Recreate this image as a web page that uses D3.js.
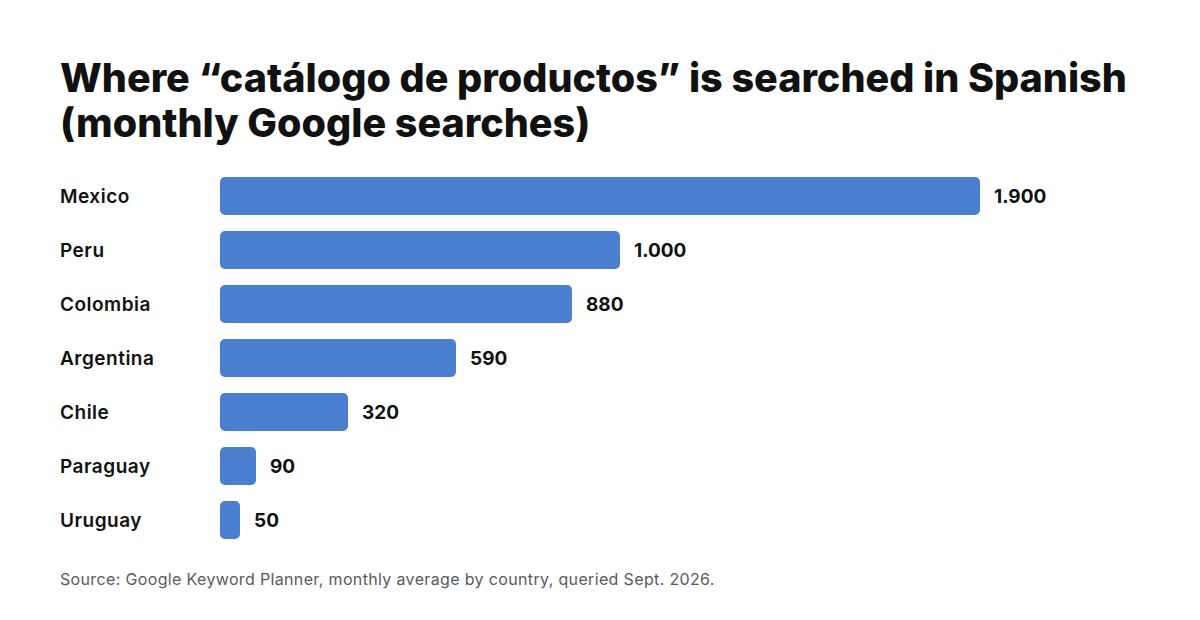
<!DOCTYPE html>
<html>
<head>
<meta charset="utf-8">
<script src="https://cdn.jsdelivr.net/npm/d3@7"></script>
<style>
  body { margin: 0; background: #fff; }
  svg { display: block; }
</style>
</head>
<body>
<script>
// data
var countries = ["Mexico", "Peru", "Colombia", "Argentina", "Chile", "Paraguay", "Uruguay"];
var searches = [1900, 1000, 880, 590, 320, 90, 50];

var titleLines = ["Where \u201ccatálogo de productos\u201d is searched in Spanish",
                  "(monthly Google searches)"];
var source = "Source: Google Keyword Planner, monthly average by country, queried Sept. 2026.";

var W = 1200, H = 620;
var font = "Inter, 'Noto Sans', sans-serif";

var svg = d3.select("body").append("svg")
    .attr("width", W)
    .attr("height", H);

// title
var title = svg.append("g");
title.selectAll("text")
    .data(titleLines)
    .enter().append("text")
    .attr("x", 60)
    .attr("y", function(d, i) { return 92 + i * 45; })
    .style("font-family", font)
    .style("font-weight", 800)
    .style("font-size", "39.5px")
    .attr("fill", "#111")
    .text(function(d) { return d; });

//scales
var x = d3.scaleLinear().domain([0, 1900]).range([220, 980]);
var y = d3.scaleBand().domain(countries).range([169, 547])
    .paddingInner(0.296).paddingOuter(0.148);

var fmt = d3.formatLocale({decimal: ",", thousands: ".", grouping: [3], currency: ["", ""]}).format(",");

var rows = svg.append("g").selectAll("g")
    .data(countries.map(function(c, i) { return {name: c, value: searches[i]}; }))
    .enter().append("g");

rows.append("rect")
    .attr("x", x(0))
    .attr("y", function(d) { return y(d.name); })
    .attr("width", function(d) { return x(d.value) - x(0); })
    .attr("height", y.bandwidth())
    .attr("rx", 5)
    .attr("fill", "#4a7ecf");

rows.append("text")
    .attr("x", 60)
    .attr("y", function(d) { return y(d.name) + y.bandwidth() / 2; })
    .attr("dy", "0.35em")
    .style("font-family", font)
    .style("font-weight", 600)
    .style("font-size", "19px")
    .style("letter-spacing", "0.5px")
    .attr("fill", "#111")
    .text(function(d) { return d.name; });

rows.append("text")
    .attr("x", function(d) { return x(d.value) + 14; })
    .attr("y", function(d) { return y(d.name) + y.bandwidth() / 2; })
    .attr("dy", "0.35em")
    .style("font-family", font)
    .style("font-weight", 700)
    .style("font-size", "19px")
    .attr("fill", "#111")
    .text(function(d) { return fmt(d.value); });

svg.append("text")
    .attr("x", 60)
    .attr("y", 585)
    .style("font-family", font)
    .style("font-size", "16px")
    .style("letter-spacing", "0.35px")
    .attr("fill", "#5a5a5a")
    .text(source);
</script>
</body>
</html>
